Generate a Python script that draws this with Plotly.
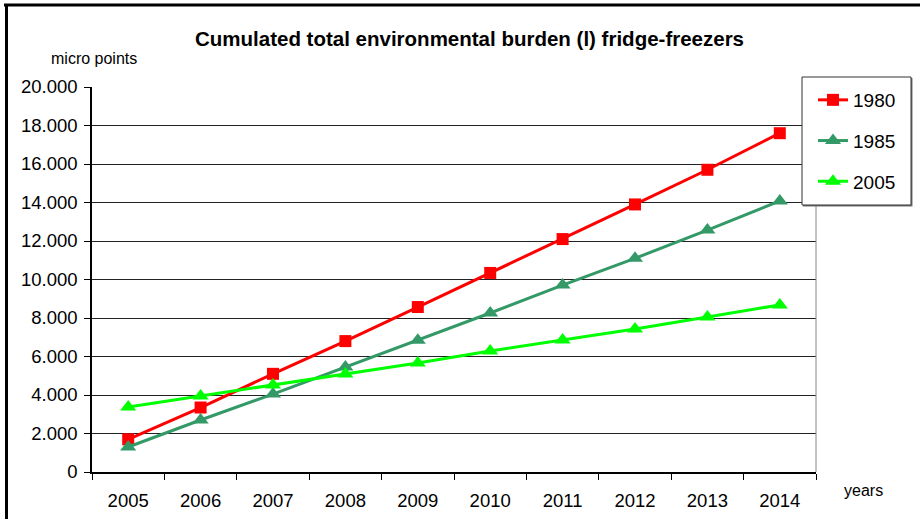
import plotly.graph_objects as go

# Years on the category axis
years = ["2005", "2006", "2007", "2008", "2009", "2010", "2011", "2012", "2013", "2014"]

# Cumulated burden in micro points per model year
burden_1980 = [1700, 3350, 5100, 6800, 8570, 10340, 12100, 13900, 15700, 17600]
burden_1985 = [1300, 2700, 4050, 5450, 6850, 8260, 9710, 11100, 12570, 14080]
burden_2005 = [3380, 3950, 4520, 5090, 5660, 6290, 6860, 7430, 8050, 8680]

series = [
    ("1980", burden_1980, "#FF0000", "square", 12),
    ("1985", burden_1985, "#339966", "triangle-up", 14),
    ("2005", burden_2005, "#00FF00", "triangle-up", 14),
]

fig = go.Figure()
for name, vals, color, symbol, size in series:
    fig.add_trace(go.Scatter(
        x=years, y=vals, name=name, legendgroup=name,
        mode="lines+markers",
        line=dict(color=color, width=3),
        marker=dict(symbol=symbol, size=size, color=color, line=dict(width=0)),
    ))

font = "Liberation Sans, Arial, sans-serif"

# plot area in pixels: x 92..816, y 87..472
PL, PR, PT, PB = 92, 816, 87, 472


def px(x):
    return (x - PL) / (PR - PL)


def py(y):
    return (PB - y) / (PB - PT)


fig.update_layout(
    width=920, height=519,
    margin=dict(l=PL, r=920 - PR, t=PT, b=519 - PB, autoexpand=False),
    paper_bgcolor="white", plot_bgcolor="white",
    separators=",.",
    font=dict(family=font, color="black", size=18),
    showlegend=True,
    legend=dict(
        x=px(813), y=py(81), xanchor="left", yanchor="top",
        bgcolor="rgba(0,0,0,0)", borderwidth=0,
        font=dict(size=19, family=font),
        tracegroupgap=13, itemwidth=30,
    ),
    xaxis=dict(
        type="category", range=[-0.5, 9.5], automargin=False,
        tickson="boundaries", ticks="outside", ticklen=6, tickcolor="black",
        ticklabelstandoff=11,
        showline=True, linecolor="black", linewidth=1.5,
        showgrid=False, zeroline=False,
        tickfont=dict(size=18.5, family=font),
    ),
    yaxis=dict(
        range=[0, 20000], dtick=2000, tickformat=",d", automargin=False,
        ticks="outside", ticklen=6, tickcolor="black",
        ticklabelstandoff=3,
        showline=True, linecolor="black", linewidth=1.5,
        showgrid=True, gridcolor="#222222", gridwidth=1,
        zeroline=False,
        tickfont=dict(size=18.5, family=font),
    ),
    annotations=[
        dict(text="<b>Cumulated total environmental burden (l) fridge-freezers</b>",
             xref="paper", yref="paper", x=px(469), y=py(38),
             xanchor="center", yanchor="middle", showarrow=False,
             font=dict(size=20.5, family=font)),
        dict(text="micro points", xref="paper", yref="paper",
             x=px(49), y=py(59),
             xanchor="left", yanchor="middle", showarrow=False,
             font=dict(size=16, family=font)),
        dict(text="years", xref="paper", yref="paper",
             x=px(842), y=py(490),
             xanchor="left", yanchor="middle", showarrow=False,
             font=dict(size=16, family=font)),
    ],
    shapes=[
        # right edge of the plot frame
        dict(type="line", xref="paper", yref="paper", x0=1, x1=1, y0=0, y1=1,
             line=dict(color="#888888", width=1)),
        # legend shadow and box
        dict(type="rect", xref="paper", yref="paper",
             x0=px(803), x1=px(912.5), y0=py(206.5), y1=py(78),
             line=dict(width=0), fillcolor="#777777", layer="above"),
        dict(type="rect", xref="paper", yref="paper",
             x0=px(802), x1=px(911), y0=py(205), y1=py(77),
             line=dict(color="#333333", width=1), fillcolor="white", layer="above"),
        # outer frame (top and left edges)
        dict(type="line", xref="paper", yref="paper",
             x0=px(4), x1=px(920), y0=py(5), y1=py(5),
             line=dict(color="black", width=3)),
        dict(type="line", xref="paper", yref="paper",
             x0=px(6.5), x1=px(6.5), y0=py(4), y1=py(520),
             line=dict(color="black", width=3)),
    ],
)

fig.write_html("out.html")
